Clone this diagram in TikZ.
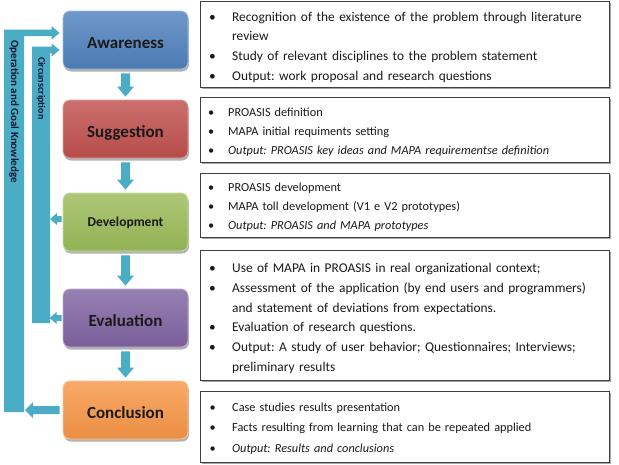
\documentclass[tikz,border=0pt]{standalone}
\usepackage{fontspec}
\setmainfont{Carlito}
\usetikzlibrary{shadows,calc}
\frenchspacing

\definecolor{cyanA}{HTML}{4BACC6}
\definecolor{blueA}{HTML}{4F81BD}
\definecolor{redA}{HTML}{C0504D}
\definecolor{greenA}{HTML}{9BBB59}
\definecolor{purpleA}{HTML}{8064A2}
\definecolor{orangeA}{HTML}{F79646}
\definecolor{boxline}{HTML}{404040}
\definecolor{txt}{HTML}{1A1A1A}

\newenvironment{blist}[2]{\begin{list}{\textbullet}{%
  \setlength{\leftmargin}{#1}\setlength{\labelsep}{#2}%
  \setlength{\labelwidth}{10pt}\setlength{\itemsep}{0pt}%
  \setlength{\parsep}{0pt}\setlength{\topsep}{0pt}%
  \setlength{\partopsep}{0pt}\setlength{\itemindent}{0pt}}}{\end{list}}

\newcommand{\downarr}[2]{%
  \fill[cyanA] ($(#1)+(-4.5,4)$) -- ($(#2)+(-4.5,-13)$) -- ($(#2)+(-8.5,-13)$)
    -- ($(#2)+(0,-3)$) -- ($(#2)+(8.5,-13)$) -- ($(#2)+(4.5,-13)$)
    -- ($(#1)+(4.5,4)$) -- cycle;}
\newcommand{\lowlabel}[2][3pt]{\raisebox{-#1}[\height][\depth]{#2}}

\begin{document}
\begin{tikzpicture}[x=1pt,y=-1pt,
  phase/.style={rounded corners=7pt, minimum width=125pt, minimum height=58pt,
    inner sep=0pt, text=txt, font=\fontsize{17}{20}\selectfont\bfseries,
    top color=#1!82!white, bottom color=#1!95!black, draw=#1!55!white, line width=0.8pt,
    drop shadow={shadow xshift=1pt, shadow yshift=-2.5pt, opacity=0.3, fill=black}},
  infobox/.style={draw=boxline, line width=1pt, fill=white, inner sep=0pt,
    minimum width=409pt, anchor=north west,
    drop shadow={shadow xshift=1.5pt, shadow yshift=-1.5pt, opacity=0.35, fill=black}},
  bigtext/.style={anchor=north west, inner sep=0pt, text width=400pt, text=txt,
    font=\fontsize{13.4}{19.8}\selectfont},
  smalltext/.style={anchor=north west, inner sep=0pt, text width=400pt, text=txt,
    font=\fontsize{12.3}{19.2}\selectfont},
  bartext/.style={rotate=-90, anchor=west, inner sep=0pt, text=txt!90!blue,
    font=\bfseries}
]
\useasboundingbox (0,0) rectangle (619,464);

% phase boxes
\node[phase=blueA]   (aw) at (125.5,40)  {\lowlabel{Awareness}};
\node[phase=redA]    (sg) at (125.5,129) {\lowlabel[4pt]{Suggestion}};
\node[phase=greenA, font=\fontsize{13.5}{16}\selectfont\bfseries] (dv) at (125.5,222) {\lowlabel[1pt]{Development}};
\node[phase=purpleA] (ev) at (125.5,318) {\lowlabel{Evaluation}};
\node[phase=orangeA] (co) at (125.5,410) {\lowlabel{Conclusion}};

% down arrows
\downarr{aw.south}{sg.north}
\downarr{sg.south}{dv.north}
\downarr{dv.south}{ev.north}
\downarr{ev.south}{co.north}

% feedback bars
\coordinate (otip) at ($(aw.west)+(-3,-7)$);
\coordinate (itip) at ($(aw.west)+(-3,10)$);
\fill[cyanA] (4,412) -- (4,29.5) -- ($(otip)+(-8,-3.5)$) -- ($(otip)+(-8,-7)$) -- (otip)
  -- ($(otip)+(-8,6.5)$) -- ($(otip)+(-8,3.2)$) -- (24,36.2) -- (24,412) -- cycle;
\fill[cyanA] (32,323) -- (32,46.5) -- ($(itip)+(-8,-3.5)$) -- ($(itip)+(-8,-6.5)$) -- (itip)
  -- ($(itip)+(-8,6.5)$) -- ($(itip)+(-8,3)$) -- (50,53) -- (50,323) -- cycle;

% arrows into the bars
\coordinate (dtip) at (50,219);
\fill[cyanA] ($(dv.west)+(-1,-6)$) -- ($(dtip)+(7,-3)$) -- ($(dtip)+(7,-6)$) -- (dtip)
  -- ($(dtip)+(7,6)$) -- ($(dtip)+(7,3)$) -- ($(dv.west)+(-1,0)$) -- cycle;
\coordinate (etip) at ($(ev.west)+(-13,0)$);
\fill[cyanA] ($(ev.west)+(-1,-3)$) -- ($(etip)+(7,-3)$) -- ($(etip)+(7,-6)$) -- (etip)
  -- ($(etip)+(7,6)$) -- ($(etip)+(7,3)$) -- ($(ev.west)+(-1,3)$) -- cycle;
\coordinate (ctip) at (25,410);
\fill[cyanA] ($(co.west)+(-3,-4)$) -- ($(ctip)+(8,-4)$) -- ($(ctip)+(8,-8)$) -- (ctip)
  -- ($(ctip)+(8,8)$) -- ($(ctip)+(8,4)$) -- ($(co.west)+(-3,4)$) -- cycle;

\node[bartext, font=\fontsize{11}{13}\selectfont\bfseries] (ogk) at (14,40) {Operation and Goal Knowledge};
\node[bartext, font=\fontsize{10}{12}\selectfont\bfseries] (circ) at (41,57) {Circunscription};

% info boxes
\node[infobox, minimum height=86pt] (b1) at (200,1)   {};
\node[infobox, minimum height=65pt] (b2) at (200,97)  {};
\node[infobox, minimum height=64pt] (b3) at (200,173) {};
\node[infobox, minimum height=130pt] (b4) at (200,250) {};
\node[infobox, minimum height=71pt] (b5) at (200,391) {};

\node[bigtext] (x1) at (205,1) {\begin{blist}{27pt}{16.5pt}
\item Recognition of the existence of the problem through literature\newline review
\item Study of relevant disciplines to the problem statement
\item Output: work proposal and research questions
\end{blist}};

\node[smalltext] (x2) at (205,97) {\begin{blist}{23pt}{14pt}
\item PROASIS definition
\item MAPA initial requiments setting
\item \textit{Output: PROASIS key ideas and MAPA requirementse definition}
\end{blist}};

\node[smalltext] (x3) at (205,172) {\begin{blist}{23pt}{14pt}
\item PROASIS development
\item MAPA toll development (V1 e V2 prototypes)
\item \textit{Output: PROASIS and MAPA prototypes}
\end{blist}};

\node[bigtext] (x4) at (205,252.5) {\begin{blist}{27pt}{16.5pt}
\item Use of MAPA in PROASIS in real organizational context;
\item Assessment of the application (by end users and programmers)\newline and statement of deviations from expectations.
\item Evaluation of research questions.
\item Output: A study of user behavior; Questionnaires; Interviews;\newline preliminary results
\end{blist}};

\node[smalltext, font=\fontsize{12.3}{20.3}\selectfont] (x5) at (205,391) {\begin{blist}{27pt}{16.5pt}
\item Case studies results presentation
\item Facts resulting from learning that can be repeated applied
\item \textit{Output: Results and conclusions}
\end{blist}};
\end{tikzpicture}
\end{document}
